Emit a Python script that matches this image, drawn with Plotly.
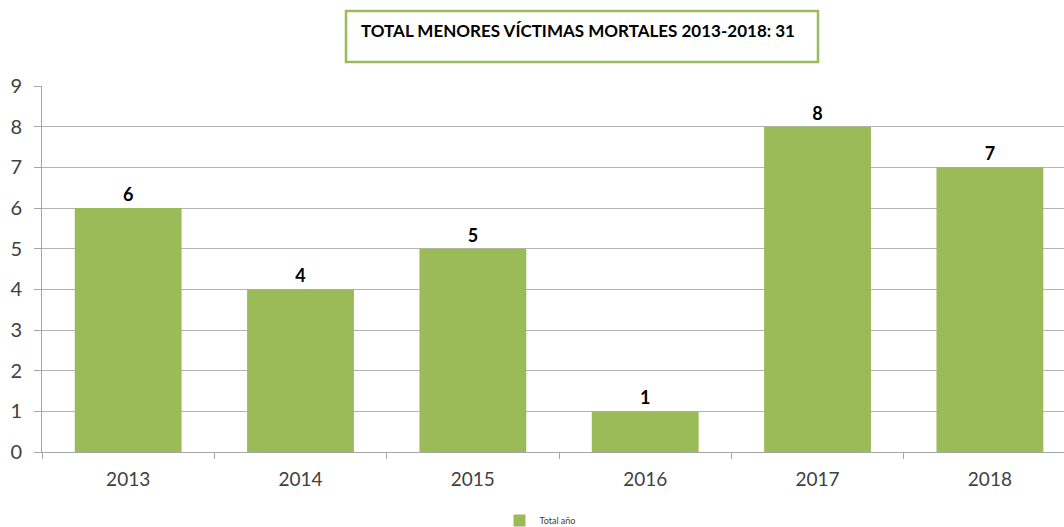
import plotly.graph_objects as go

years = ["2013", "2014", "2015", "2016", "2017", "2018"]
victims = [6, 4, 5, 1, 8, 7]
title_text = "TOTAL MENORES VÍCTIMAS MORTALES 2013-2018: 31"
series_name = "Total año"

L, R, T, B = 42, 0, 86, 84
W, H = 1064, 536
pw = W - L - R
ph = H - T - B

def px(x):
    return (x - L) / pw

def py(y):
    return (H - B - y) / ph

fig = go.Figure()
fig.add_trace(go.Bar(
    x=years, y=victims, name=series_name,
    marker=dict(color="#9BBB59", line=dict(width=0)),
    width=0.62,
    text=[str(v) for v in victims],
    textposition="outside",
    textfont=dict(family="Lato, sans-serif", size=18, color="#000000", weight="bold"),
    cliponaxis=False,
    showlegend=True,
))

fig.add_shape(type="rect", xref="paper", yref="paper",
              x0=px(346), x1=px(818), y0=py(62), y1=py(11),
              line=dict(color="#9BBB59", width=2.5), fillcolor="white")
fig.add_annotation(xref="paper", yref="paper", x=px(359), y=py(31),
                   xanchor="left", yanchor="middle", showarrow=False,
                   text="<b>" + title_text + "</b>",
                   font=dict(family="Lato, sans-serif", size=17, color="#000000"))

fig.update_layout(
    width=W, height=H,
    margin=dict(l=L, r=R, t=T, b=B, pad=0),
    plot_bgcolor="white", paper_bgcolor="white",
    bargap=0.38,
    showlegend=True,
    legend=dict(orientation="h", x=px(540), y=py(535), xanchor="center", yanchor="bottom",
                font=dict(family="Lato, sans-serif", size=9, color="#404040"),
                itemwidth=30, bgcolor="rgba(0,0,0,0)", borderwidth=0),
    xaxis=dict(type="category", range=[-0.5, 5.43],
               showline=True, linecolor="#A6A6A6", linewidth=1,
               ticks="outside", tickson="boundaries", ticklen=6, tickcolor="#A6A6A6",
               ticklabelstandoff=10,
               tickfont=dict(family="Lato, sans-serif", size=19, color="#404040"),
               showgrid=False),
    yaxis=dict(range=[0, 9], dtick=1,
               showline=True, linecolor="#A6A6A6", linewidth=1,
               ticks="outside", ticklen=7, tickcolor="#A6A6A6",
               ticklabelstandoff=8,
               showgrid=True, gridcolor="#B3B3B3", gridwidth=1,
               zeroline=False,
               tickfont=dict(family="Lato, sans-serif", size=20, color="#404040")),
)

fig.write_html("out.html", config={"displayModeBar": False},
               post_script="document.body.style.margin='0';document.body.style.overflow='hidden';")
